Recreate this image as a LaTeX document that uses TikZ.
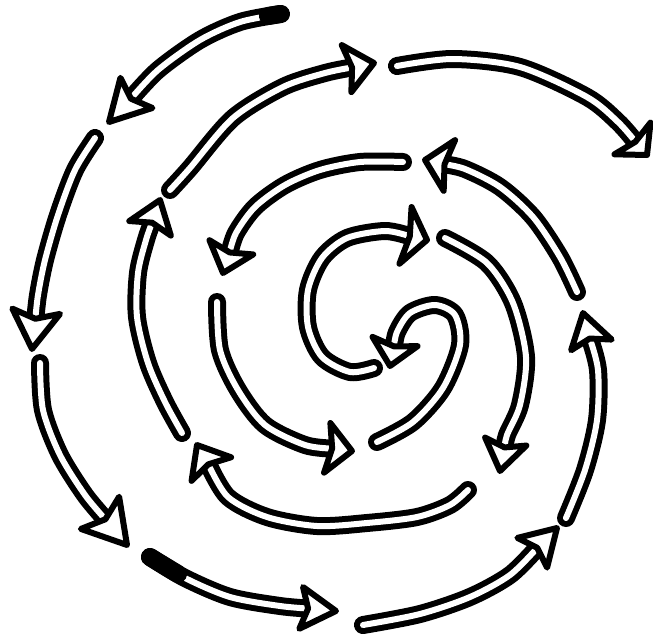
\documentclass[tikz,border=0pt]{standalone}
\tikzset{
  shaftout/.style={draw=black, line width=18pt, line cap=round, line join=round},
  shaftin/.style={draw=white, line width=6pt, line cap=round, line join=round},
  headstyle/.style={fill=white, draw=black, line width=6pt, line join=round},
  solidtail/.style={draw=black, line width=18pt, line cap=round},
}
% #1 head length, #2 head half-width, #3 shaft points, (#4,#5) point before tip, (#6,#7) tip
\newcommand\hollowarrow[7]{%
  \pgfmathsetmacro\hdang{atan2(#5-#7,#6-#4)}%
  \pgfmathsetmacro\hdsx{#6-0.75*#1*cos(\hdang)}%
  \pgfmathsetmacro\hdsy{#7+0.75*#1*sin(\hdang)}%
  \draw[shaftout] plot[smooth] coordinates {#3 (#4,#5) (\hdsx,\hdsy)};
  \draw[shaftin] plot[smooth] coordinates {#3 (#4,#5) (\hdsx,\hdsy)};
  \filldraw[headstyle, shift={(#6,#7)}, rotate=\hdang]
    (0,0) -- (-#1,#2) -- (-0.8*#1,0) -- (-#1,-#2) -- cycle;
}
\begin{document}
\begin{tikzpicture}[x=1pt, y=-1pt]
\useasboundingbox (0,0) rectangle (653,642);
% inward spiral
\hollowarrow{40}{22}{(281,14) (240,22) (200,40)}{158}{70}{109}{122}
\draw[solidtail] (280,14) -- (268,16);
\hollowarrow{38}{24}{(95,138) (75,170) (58,215) (45,260)}{38}{295}{32}{349}
\hollowarrow{42}{25}{(40,363) (43,410) (60,455)}{85}{495}{127}{545}
\hollowarrow{35}{21}{(150,557) (185,578) (230,597)}{280}{606}{336}{611}
\draw[solidtail] (150,557) -- (178,574);
\hollowarrow{35}{21}{(363,625) (420,614) (470,597)}{510}{575}{557}{528}
\hollowarrow{33}{21}{(566,518) (585,470) (597,420)}{598}{370}{583}{313}
\hollowarrow{25}{26}{(577,292) (560,257) (533,217) (500,187)}{465}{169}{425}{160}
\hollowarrow{27}{23}{(403,162) (360,162) (320,170) (285,185) (255,207)}{236}{233}{223}{273}
\hollowarrow{25}{25}{(217,302) (220,350) (238,390) (265,425)}{305}{445}{352}{451}
\hollowarrow{25}{23}{(377,442) (413,422) (443,388) (460,345) (455,315) (435,305) (410,313)}{397}{332}{390}{366}
% outward spiral
\hollowarrow{22}{29}{(374,368) (350,372) (322,357) (308,327) (308,290) (322,258) (347,238)}{385}{231}{427}{240}
\hollowarrow{30}{21}{(445,238) (487,263) (513,303) (526,357) (520,405)}{507}{435}{500}{471}
\hollowarrow{28}{23}{(468,490) (450,505) (417,517) (367,523) (317,526) (267,517)}{228}{497}{197}{445}
\hollowarrow{30}{22}{(182,433) (165,402) (148,363) (137,317) (138,273)}{146}{240}{160}{200}
\hollowarrow{28}{24}{(170,190) (190,168) (233,118) (283,87)}{325}{73}{374}{63}
\hollowarrow{22}{24}{(397,66) (453,59) (520,67) (587,97)}{618}{122}{647}{155}
\end{tikzpicture}
\end{document}
